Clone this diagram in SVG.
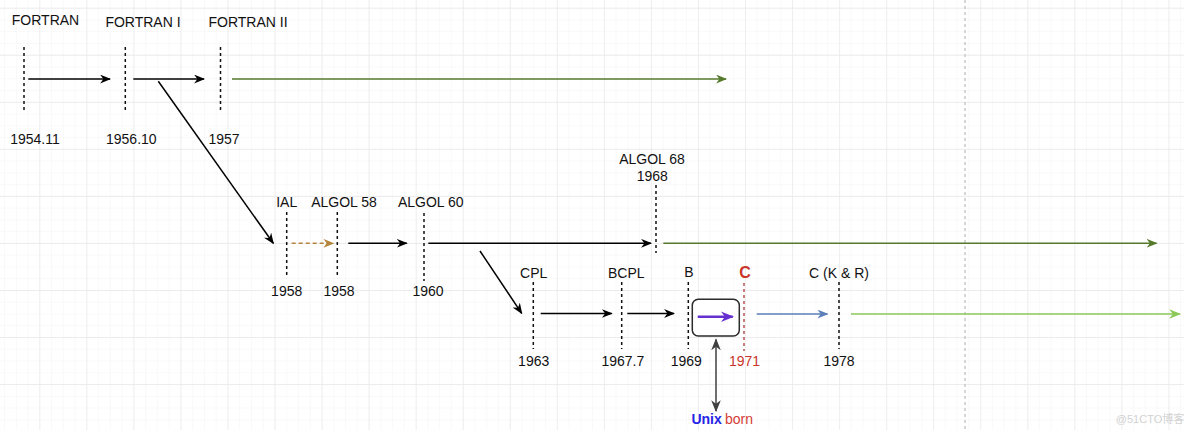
<svg xmlns="http://www.w3.org/2000/svg" width="1184" height="430" viewBox="0 0 1184 430">
<defs>
  <pattern id="minor" x="39.3" y="7.7" width="11.76" height="11.76" patternUnits="userSpaceOnUse">
    <path d="M0,0 H11.76 M0,0 V11.76" fill="none" stroke="#f4f4f4" stroke-width="1"/>
  </pattern>
  <pattern id="major" x="39.3" y="7.7" width="47.05" height="47.05" patternUnits="userSpaceOnUse">
    <path d="M0,0 H47.05 M0,0 V47.05" fill="none" stroke="#e8e8e8" stroke-width="1.3"/>
  </pattern>
  <marker id="aBlack" viewBox="0 0 10 8" refX="9" refY="4" markerWidth="11" markerHeight="9" markerUnits="userSpaceOnUse" orient="auto"><path d="M0,0 L10,4 L0,8 L3,4 z" fill="#000"/></marker>
  <marker id="aDkGreen" viewBox="0 0 10 8" refX="9" refY="4" markerWidth="11" markerHeight="9" markerUnits="userSpaceOnUse" orient="auto"><path d="M0,0 L10,4 L0,8 L3,4 z" fill="#557a2c"/></marker>
  <marker id="aLtGreen" viewBox="0 0 10 8" refX="9" refY="4" markerWidth="12" markerHeight="10" markerUnits="userSpaceOnUse" orient="auto"><path d="M0,0 L10,4 L0,8 L3,4 z" fill="#8cc956"/></marker>
  <marker id="aBlue" viewBox="0 0 10 8" refX="9" refY="4" markerWidth="11" markerHeight="9" markerUnits="userSpaceOnUse" orient="auto"><path d="M0,0 L10,4 L0,8 L3,4 z" fill="#5b7fb8"/></marker>
  <marker id="aBrown" viewBox="0 0 10 8" refX="9" refY="4" markerWidth="11" markerHeight="9" markerUnits="userSpaceOnUse" orient="auto"><path d="M0,0 L10,4 L0,8 L3,4 z" fill="#b5843c"/></marker>
  <marker id="aPurple" viewBox="0 0 10 8" refX="9" refY="4" markerWidth="13" markerHeight="11" markerUnits="userSpaceOnUse" orient="auto"><path d="M0,0 L10,4 L0,8 L3,4 z" fill="#6630d0"/></marker>
  <marker id="aGray" viewBox="0 0 10 8" refX="9" refY="4" markerWidth="12" markerHeight="10" markerUnits="userSpaceOnUse" orient="auto-start-reverse"><path d="M0,0 L10,4 L0,8 L3,4 z" fill="#404040"/></marker>
</defs>
<style>
  text { font-family: "Liberation Sans", Arial, Helvetica, sans-serif; font-size: 14px; fill: #111; text-anchor: middle; }
  .tick { stroke: #111; stroke-width: 1.5; stroke-dasharray: 3 3; fill: none; }
  .conn { fill: none; stroke-width: 1.5; }
  .black { stroke: #000; marker-end: url(#aBlack); }
  .red { fill: #c9352b; }
</style>
<rect width="1184" height="430" fill="#fff"/>
<rect width="1184" height="430" fill="url(#minor)"/>
<rect width="1184" height="430" fill="url(#major)"/>
<line x1="965" y1="0" x2="965" y2="430" stroke="#c9c9c9" stroke-width="1.5" stroke-dasharray="3 3"/>

<g id="fortran"><text x="45.5" y="25">FORTRAN</text><line class="tick" x1="24" y1="47" x2="24" y2="113"/><text x="35" y="144">1954.11</text></g>
<g id="fortran1"><text x="143" y="27">FORTRAN I</text><line class="tick" x1="125.3" y1="47" x2="125.3" y2="113"/><text x="131.3" y="144">1956.10</text></g>
<g id="fortran2"><text x="248" y="27">FORTRAN II</text><line class="tick" x1="220.5" y1="47" x2="220.5" y2="113"/><text x="224" y="144">1957</text></g>

<g id="ial"><text x="286.7" y="207">IAL</text><line class="tick" x1="286.7" y1="212" x2="286.7" y2="278"/><text x="286.7" y="296">1958</text></g>
<g id="algol58"><text x="344" y="207">ALGOL 58</text><line class="tick" x1="337.3" y1="212" x2="337.3" y2="278"/><text x="339" y="296">1958</text></g>
<g id="algol60"><text x="430.8" y="207">ALGOL 60</text><line class="tick" x1="424" y1="213" x2="424" y2="281"/><text x="428" y="296">1960</text></g>
<g id="algol68"><text x="652" y="164">ALGOL 68</text><text x="652.3" y="180.5">1968</text><line class="tick" x1="656" y1="185" x2="656" y2="253"/></g>

<g id="cpl"><text x="533.7" y="277.7">CPL</text><line class="tick" x1="533.3" y1="282" x2="533.3" y2="349"/><text x="533.7" y="366">1963</text></g>
<g id="bcpl"><text x="626.3" y="277.7">BCPL</text><line class="tick" x1="621.7" y1="282" x2="621.7" y2="349"/><text x="622.8" y="366">1967.7</text></g>
<g id="b"><text x="689" y="276.7">B</text><line class="tick" x1="688.3" y1="282" x2="688.3" y2="349"/><text x="686.3" y="366">1969</text></g>
<g id="c"><text x="745" y="277.7" class="red" style="font-size:16px;font-weight:bold">C</text><line class="tick" x1="744" y1="283" x2="744" y2="351" style="stroke:#b85450"/><text x="744.5" y="366" class="red">1971</text></g>
<g id="ckr"><text x="839" y="277.5">C (K &amp; R)</text><line class="tick" x1="839" y1="282" x2="839" y2="349"/><text x="839" y="366">1978</text></g>

<g id="unix-box"><rect x="692.3" y="299.3" width="47" height="36.7" rx="6" ry="6" fill="#fff" stroke="#2b2b2b" stroke-width="1.5"/><line x1="697.7" y1="316.7" x2="732.7" y2="316.7" stroke="#6630d0" stroke-width="2.5" marker-end="url(#aPurple)"/></g>
<g id="unix-born"><text x="721.8" y="424" style="font-weight:bold;fill:#2424e6;text-anchor:end">Unix</text><text x="725" y="424" style="text-anchor:start;fill:#d43c35">born</text></g>
<text x="1150" y="423" style="font-size:11px;fill:#d2d2d2;font-family:'Liberation Sans','Noto Sans CJK SC',sans-serif">@51CTO博客</text>

<g id="connectors">
  <line class="conn black" x1="28.3" y1="79" x2="110" y2="79"/>
  <line class="conn black" x1="133.3" y1="79" x2="204" y2="79"/>
  <line class="conn" x1="232" y1="79" x2="726" y2="79" stroke="#557a2c" marker-end="url(#aDkGreen)"/>
  <line class="conn black" x1="158.3" y1="81.3" x2="273.3" y2="243.3"/>
  <line class="conn" x1="291.7" y1="243.3" x2="333.3" y2="243.3" stroke="#b5843c" stroke-dasharray="4 3" marker-end="url(#aBrown)"/>
  <line class="conn black" x1="348.3" y1="243.3" x2="406.7" y2="243.3"/>
  <line class="conn black" x1="428.3" y1="243.3" x2="651" y2="243.3"/>
  <line class="conn" x1="663.3" y1="243.3" x2="1156.5" y2="243.3" stroke="#557a2c" marker-end="url(#aDkGreen)"/>
  <line class="conn black" x1="480" y1="251" x2="521.7" y2="313.3"/>
  <line class="conn black" x1="540.7" y1="313.5" x2="611.7" y2="313.5"/>
  <line class="conn black" x1="627.3" y1="313.5" x2="674" y2="313.5"/>
  <line class="conn" x1="756.7" y1="314" x2="827.3" y2="314" stroke="#5b7fb8" marker-end="url(#aBlue)"/>
  <line class="conn" x1="851" y1="314" x2="1180" y2="314" stroke="#8cc956" stroke-width="2" marker-end="url(#aLtGreen)"/>
  <line class="conn" x1="716" y1="339.5" x2="716" y2="411" stroke="#404040" stroke-width="2" marker-start="url(#aGray)" marker-end="url(#aGray)"/>
</g>
</svg>
